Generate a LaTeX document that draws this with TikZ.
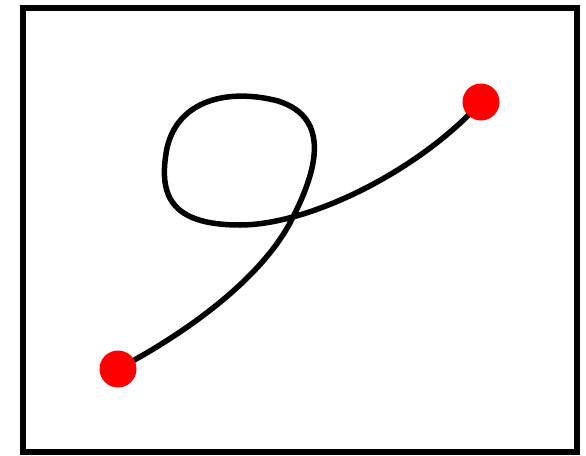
\documentclass[tikz,border=0pt]{standalone}
\begin{document}
\begin{tikzpicture}[x=1pt,y=-1pt,
  frame/.style={draw=black,line width=6pt,line join=miter},
  curveline/.style={draw=black,line width=5.5pt,line cap=round},
  dot/.style={circle,fill=red,minimum size=37pt,inner sep=0pt}]
\useasboundingbox (0,0) rectangle (586,455);
\draw[frame] (23,8) rectangle (577,452);
\coordinate (p1) at (293,217);
\coordinate (p2) at (240,225);
\draw[curveline] (118,369) .. controls (210,320) and (270,265) .. (p1)
  .. controls (316,172) and (332,118) .. (278,101)
  .. controls (228,88) and (178,100) .. (167,148)
  .. controls (158,195) and (170,225) .. (p2)
  .. controls (310,225) and (420,170) .. (481,102);
\node[dot] (a) at (118,369) {};
\node[dot] (b) at (481,102) {};
\end{tikzpicture}
\end{document}
